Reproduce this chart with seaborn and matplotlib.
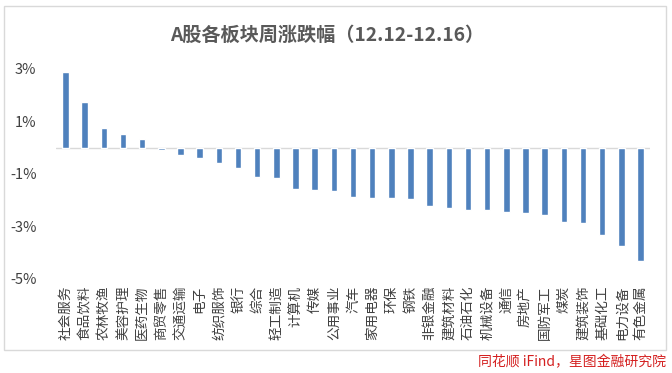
import matplotlib
matplotlib.use("Agg")
import matplotlib.pyplot as plt
import seaborn as sns
import pandas as pd
from matplotlib.patches import Rectangle

sectors = ["社会服务", "食品饮料", "农林牧渔", "美容护理", "医药生物", "商贸零售", "交通运输", "电子",
           "纺织服饰", "银行", "综合", "轻工制造", "计算机", "传媒", "公用事业", "汽车",
           "家用电器", "环保", "钢铁", "非银金融", "建筑材料", "石油石化", "机械设备", "通信",
           "房地产", "国防军工", "煤炭", "建筑装饰", "基础化工", "电力设备", "有色金属"]
changes = [2.90, 1.73, 0.77, 0.51, 0.35, -0.09, -0.28, -0.39,
           -0.58, -0.77, -1.12, -1.15, -1.57, -1.61, -1.65, -1.88,
           -1.92, -1.92, -1.95, -2.22, -2.30, -2.37, -2.37, -2.45,
           -2.49, -2.56, -2.83, -2.87, -3.32, -3.74, -4.31]
yticks = [-5, -3, -1, 1, 3]
ytick_labels = ["-5%", "-3%", "-1%", "1%", "3%"]
title = "A股各板块周涨跌幅（12.12-12.16）"
source = "同花顺 iFind，星图金融研究院"

sns.set_theme(style="white")
plt.rcParams["font.family"] = ["Noto Sans CJK SC", "DejaVu Sans"]

df = pd.DataFrame({"sector": sectors, "change": changes})

fig = plt.figure(figsize=(6.72, 3.73), dpi=100)
ax = fig.add_axes([56 / 672, 94 / 373, (650 - 56) / 672, (279 - 69) / 373])

sns.barplot(data=df, x="sector", y="change", color="#4F81BD", width=0.34,
            saturation=1, ax=ax, order=sectors)

ax.set_ylim(-5, 3)
ax.set_xlim(-0.5, len(sectors) - 0.5)
ax.set_yticks(yticks)
ax.set_yticklabels(ytick_labels, fontsize=10.5, color="#404040")
ax.tick_params(axis="y", length=0, pad=14)
ax.tick_params(axis="x", length=0, pad=5)
ax.set_xticks(range(len(sectors)))
ax.set_xticklabels(sectors, rotation=90, fontsize=9.8, color="#404040", va="top", ha="center")
ax.set_xlabel("")
ax.set_ylabel("")
ax.axhline(0, color="#D9D9D9", lw=1, zorder=0)
for s in ax.spines.values():
    s.set_visible(False)

fig.text(327 / 672, 1 - 35 / 373, title, ha="center", va="center", fontsize=13.8,
         fontweight="bold", color="#595959")

fig.patches.append(Rectangle((4 / 672, 1 - 350 / 373), (666 - 4) / 672, (350 - 6) / 373,
                             transform=fig.transFigure, fill=False, edgecolor="#D9D9D9",
                             lw=1))

fig.text(666 / 672, 1 - 362 / 373, source, ha="right", va="center", fontsize=10,
         color="#D42020", style="italic")

fig.savefig("out.png", dpi=100)
